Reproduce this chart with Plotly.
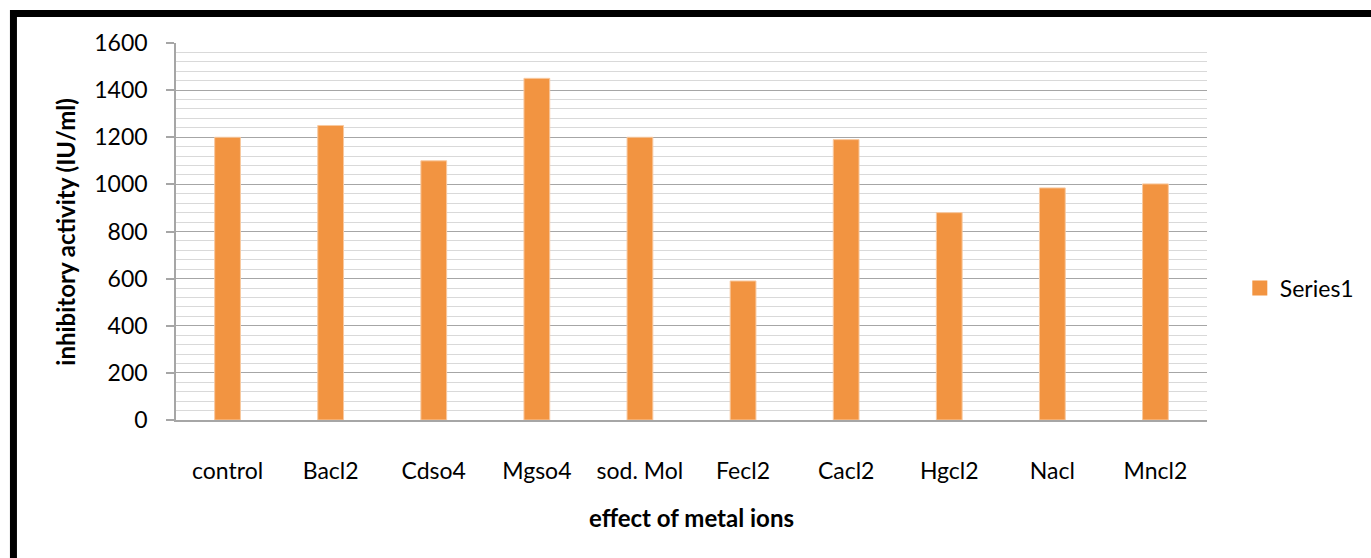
import plotly.graph_objects as go

# Inhibitory activity measured with each metal ion
categories = ["control", "Bacl2", "Cdso4", "Mgso4", "sod. Mol",
              "Fecl2", "Cacl2", "Hgcl2", "Nacl", "Mncl2"]
activity = [1200, 1250, 1100, 1450, 1200, 590, 1190, 880, 985, 1002]
series_name = "Series1"
y_ticks = [0, 200, 400, 600, 800, 1000, 1200, 1400, 1600]

W, H = 1371, 558
L, R, T, B = 176, 1213, 43, 420
pw, ph = R - L, B - T

def px_x(x):
    return (x - L) / pw

def px_y(y):
    return (B - y) / ph

FONT = "Lato"
BAR_COLOR = "#F29441"

fig = go.Figure()
fig.add_trace(go.Bar(
    x=categories, y=activity, name=series_name,
    marker=dict(color=BAR_COLOR, line=dict(color="#F8C9A0", width=1)),
    showlegend=False,
))
# legend entry with a larger square swatch
fig.add_trace(go.Scatter(
    x=[None], y=[None], mode="markers", name=series_name,
    marker=dict(symbol="square", size=15, color=BAR_COLOR),
    showlegend=True,
))

fig.update_layout(
    width=W, height=H,
    margin=dict(l=L, r=W - R, t=T, b=H - B, pad=0),
    paper_bgcolor="white", plot_bgcolor="white",
    bargap=0.75,
    font=dict(family=FONT, size=23, color="black"),
    showlegend=True,
    legend=dict(x=px_x(1246), y=px_y(288), xanchor="left", yanchor="middle",
                font=dict(family=FONT, size=23, color="black"),
                bgcolor="rgba(0,0,0,0)", itemwidth=30),
    xaxis=dict(
        type="category", showgrid=False, ticks="",
        showline=True, linecolor="#A6A6A6", linewidth=1.5,
        ticklabelstandoff=30, fixedrange=True,
        tickfont=dict(family=FONT, size=23, color="black"),
    ),
    yaxis=dict(
        range=[0, 1600], tickvals=y_ticks,
        showgrid=True, gridcolor="#A6A6A6", gridwidth=1.2,
        minor=dict(dtick=40, showgrid=True, gridcolor="#D9D9D9", gridwidth=1.2,
                   ticks=""),
        showline=True, linecolor="#A6A6A6", linewidth=1.5,
        ticks="outside", ticklen=8, tickcolor="#A6A6A6", tickwidth=1.5,
        ticklabelstandoff=14, zeroline=False, fixedrange=True,
        tickfont=dict(family=FONT, size=23, color="black"),
    ),
    annotations=[
        dict(text="<b>inhibitory activity (IU/ml)</b>", xref="paper", yref="paper",
             x=px_x(64), y=px_y(232), textangle=-90, showarrow=False,
             xanchor="center", yanchor="middle",
             font=dict(family=FONT, size=24, color="black")),
        dict(text="<b>effect of metal ions</b>", xref="paper", yref="paper",
             x=px_x(694), y=px_y(517), showarrow=False,
             xanchor="center", yanchor="middle",
             font=dict(family=FONT, size=24, color="black")),
    ],
    shapes=[
        dict(type="rect", xref="paper", yref="paper", layer="above",
             x0=px_x(12.5), y1=px_y(13.5),
             x1=px_x(W + 40), y0=px_y(H + 40),
             line=dict(color="black", width=7), fillcolor="rgba(0,0,0,0)"),
    ],
)

fig.write_html("out.html")
